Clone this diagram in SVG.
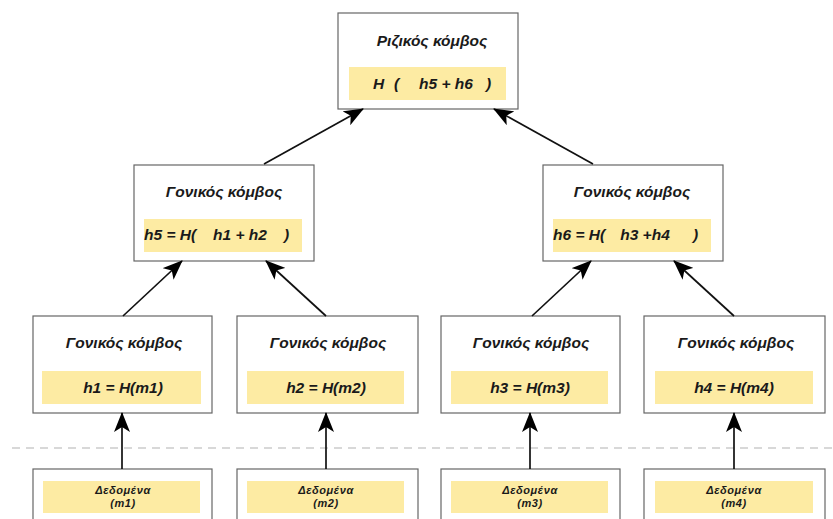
<svg xmlns="http://www.w3.org/2000/svg" width="833" height="519" viewBox="0 0 833 519">
  <style>
    .box { fill: #ffffff; stroke: #666666; stroke-width: 1.2; }
    .hl { fill: #fdeba3; }
    .t { font-family: "Liberation Sans", Arial, sans-serif; font-weight: bold; font-style: italic; fill: #1a1a1a; }
    .title { font-size: 15.5px; text-anchor: middle; }
    .eq { font-size: 15.5px; }
    .eqc { font-size: 15.5px; text-anchor: middle; }
    .data { font-size: 11px; text-anchor: middle; letter-spacing: 0.6px; }
    .edge { stroke: #111111; stroke-width: 1.7; fill: none; marker-end: url(#arrow); }
  </style>
  <defs>
    <marker id="arrow" viewBox="0 0 20 16" refX="19" refY="8" markerWidth="20" markerHeight="16" markerUnits="userSpaceOnUse" orient="auto">
      <path d="M0,0 L20,8 L0,16 L5,8 Z" fill="#000000"/>
    </marker>
  </defs>
  <rect width="833" height="519" fill="#ffffff"/>

  <!-- separator between hashes and data -->
  <line x1="12" y1="448" x2="833" y2="448" stroke="#cccccc" stroke-width="1.5" stroke-dasharray="8,6"/>

  <!-- root -->
  <g id="root">
    <rect class="box" x="338" y="13" width="180" height="96"/>
    <rect class="hl" x="349" y="67" width="157" height="33"/>
    <text class="t title" x="432" y="46">Ριζικός κόμβος</text>
    <text class="t eq" x="373" y="89">H</text>
    <text class="t eq" x="394" y="89">(</text>
    <text class="t eqc" x="446" y="89">h5 + h6</text>
    <text class="t eq" x="486" y="89">)</text>
  </g>

  <!-- internal nodes -->
  <g id="parent-h5">
    <rect class="box" x="134" y="165" width="180" height="96"/>
    <rect class="hl" x="144" y="219" width="158" height="33"/>
    <text class="t title" x="224" y="197">Γονικός κόμβος</text>
    <text class="t eq" x="144" y="240">h5 = H(</text>
    <text class="t eqc" x="240" y="240">h1 + h2</text>
    <text class="t eq" x="284" y="240">)</text>
  </g>
  <g id="parent-h6">
    <rect class="box" x="543" y="165" width="180" height="96"/>
    <rect class="hl" x="553" y="219" width="158" height="33"/>
    <text class="t title" x="632" y="197">Γονικός κόμβος</text>
    <text class="t eq" x="553" y="240">h6 = H(</text>
    <text class="t eqc" x="645" y="240">h3 +h4</text>
    <text class="t eq" x="693" y="240">)</text>
  </g>

  <!-- leaf hashes -->
  <g id="leaf-h1">
    <rect class="box" x="33" y="316" width="179" height="97"/>
    <rect class="hl" x="42" y="371" width="159" height="33"/>
    <text class="t title" x="124" y="348">Γονικός κόμβος</text>
    <text class="t eqc" x="123" y="393">h1 = H(m1)</text>
  </g>
  <g id="leaf-h2">
    <rect class="box" x="237" y="316" width="181" height="97"/>
    <rect class="hl" x="247" y="371" width="157" height="33"/>
    <text class="t title" x="328" y="348">Γονικός κόμβος</text>
    <text class="t eqc" x="326" y="393">h2 = H(m2)</text>
  </g>
  <g id="leaf-h3">
    <rect class="box" x="441" y="316" width="179" height="97"/>
    <rect class="hl" x="451" y="371" width="157" height="33"/>
    <text class="t title" x="531" y="348">Γονικός κόμβος</text>
    <text class="t eqc" x="530" y="393">h3 = H(m3)</text>
  </g>
  <g id="leaf-h4">
    <rect class="box" x="644" y="316" width="181" height="97"/>
    <rect class="hl" x="655" y="371" width="158" height="33"/>
    <text class="t title" x="736" y="348">Γονικός κόμβος</text>
    <text class="t eqc" x="734" y="393">h4 = H(m4)</text>
  </g>

  <!-- data blocks -->
  <g id="data-m1">
    <rect class="box" x="33" y="469" width="179" height="60"/>
    <rect class="hl" x="43" y="481" width="157" height="32"/>
    <text class="t data" x="123" y="494">Δεδομένα</text>
    <text class="t data" x="123" y="507">(m1)</text>
  </g>
  <g id="data-m2">
    <rect class="box" x="237" y="469" width="181" height="60"/>
    <rect class="hl" x="247" y="481" width="157" height="32"/>
    <text class="t data" x="326" y="494">Δεδομένα</text>
    <text class="t data" x="326" y="507">(m2)</text>
  </g>
  <g id="data-m3">
    <rect class="box" x="441" y="469" width="179" height="60"/>
    <rect class="hl" x="451" y="481" width="157" height="32"/>
    <text class="t data" x="530" y="494">Δεδομένα</text>
    <text class="t data" x="530" y="507">(m3)</text>
  </g>
  <g id="data-m4">
    <rect class="box" x="644" y="469" width="181" height="60"/>
    <rect class="hl" x="655" y="481" width="158" height="32"/>
    <text class="t data" x="734" y="494">Δεδομένα</text>
    <text class="t data" x="734" y="507">(m4)</text>
  </g>

  <!-- connectors -->
  <g id="connectors">
    <line class="edge" x1="264" y1="164" x2="363" y2="109"/>
    <line class="edge" x1="593" y1="164" x2="494" y2="109"/>
    <line class="edge" x1="123" y1="316" x2="182" y2="261"/>
    <line class="edge" x1="326" y1="316" x2="266" y2="261"/>
    <line class="edge" x1="532" y1="316" x2="591" y2="261"/>
    <line class="edge" x1="734" y1="316" x2="674" y2="261"/>
    <line class="edge" x1="122" y1="469" x2="122" y2="413"/>
    <line class="edge" x1="326" y1="469" x2="326" y2="413"/>
    <line class="edge" x1="530" y1="469" x2="530" y2="413"/>
    <line class="edge" x1="734" y1="469" x2="734" y2="413"/>
  </g>
</svg>
